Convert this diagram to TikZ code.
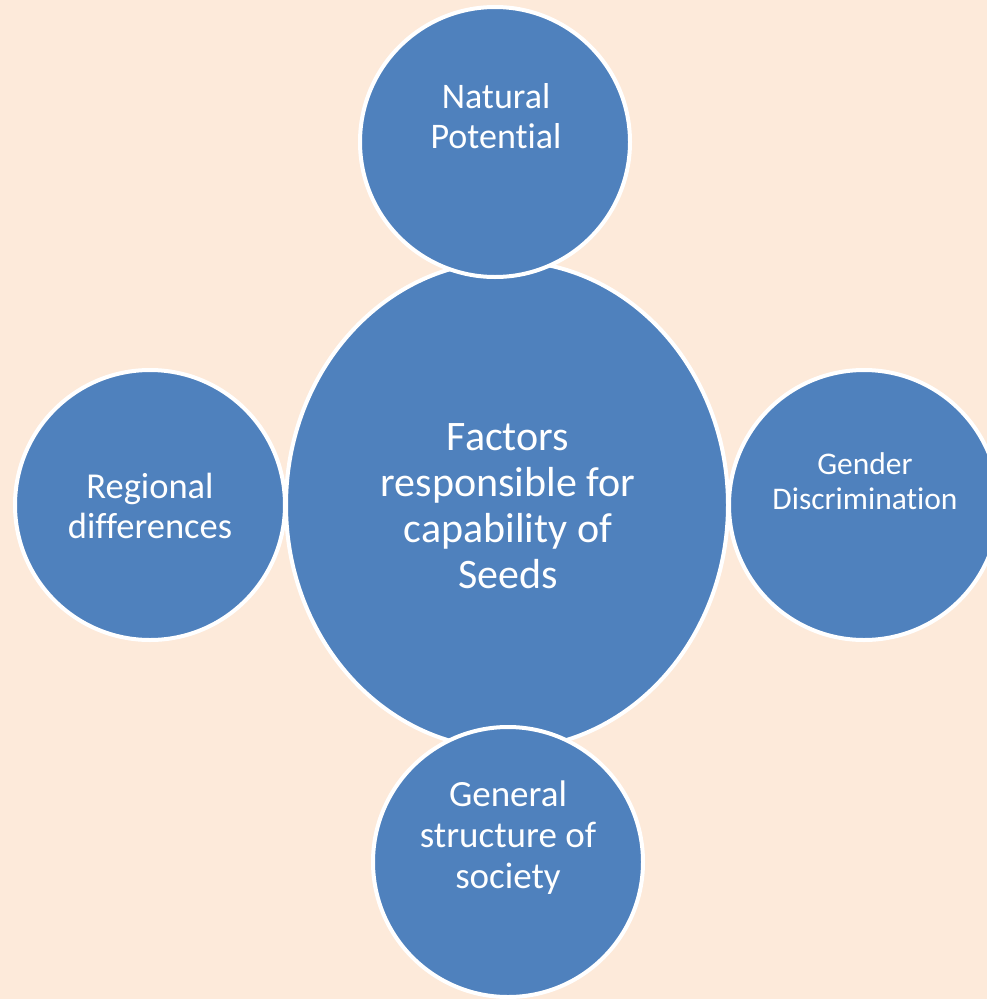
\documentclass[tikz,border=0pt]{standalone}
\usepackage{fontspec}
\setmainfont{Carlito}[Ligatures=NoCommon]
\usetikzlibrary{shapes.geometric}
\definecolor{peach}{HTML}{FDEADA}
\definecolor{seedblue}{HTML}{4F81BD}
\tikzset{
  hub node/.style={ellipse,draw=white,line width=4pt,fill=seedblue,
    minimum width=442pt,minimum height=488pt,inner sep=0pt},
  factor node/.style={circle,draw=white,line width=4pt,fill=seedblue,
    minimum size=270pt,inner sep=0pt},
  factor text/.style={text=white,align=center,inner sep=0pt},
}
\begin{document}
\begin{tikzpicture}[x=1pt,y=-1pt]
  % Canvas
  \fill[peach] (0,0) rectangle (987,999);
  \useasboundingbox (0,0) rectangle (987,999);
  \clip (0,0) rectangle (987,999);

  % Central factor
  \node[hub node] (hub) at (507,505) {};
  \node[factor text,font=\fontsize{42}{46}\selectfont] (hubtext) at (508,506)
    {Factors\\responsible for\\capability of\\Seeds};

  % Surrounding factors
  \node[factor node] (natural) at (495,142) {};
  \node[factor node] (regional) at (150,505) {};
  \node[factor node] (gender) at (864,505) {};
  \node[factor node] (society) at (508,862) {};
  \node[factor text,font=\fontsize{36}{40}\selectfont] (naturaltext) at (496,116)
    {Natural\\Potential};
  \node[factor text,font=\fontsize{36.5}{40}\selectfont] (regionaltext) at (150,506)
    {Regional\\differences};
  \node[factor text,font=\fontsize{31.5}{35}\selectfont] (gendertext) at (865,481)
    {Gender\\Discrimination};
  \node[factor text,font=\fontsize{37}{41}\selectfont] (societytext) at (508,838)
    {General\\structure of\\society};
\end{tikzpicture}
\end{document}
